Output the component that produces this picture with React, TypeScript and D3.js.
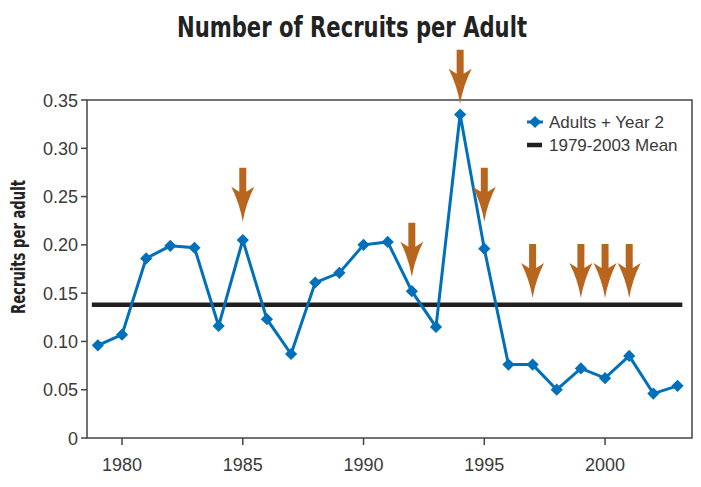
import React from 'react';
import * as d3 from 'd3';

const years = [1979, 1980, 1981, 1982, 1983, 1984, 1985, 1986, 1987, 1988, 1989, 1990, 1991, 1992, 1993, 1994, 1995, 1996, 1997, 1998, 1999, 2000, 2001, 2002, 2003];
const recruits = [0.096, 0.107, 0.186, 0.199, 0.197, 0.116, 0.205, 0.123, 0.087, 0.161, 0.171, 0.200, 0.203, 0.152, 0.115, 0.335, 0.196, 0.076, 0.076, 0.050, 0.072, 0.062, 0.085, 0.046, 0.054];
const meanValue = 0.138;
const meanSpan = [1978.75, 2003.2];

// arrows pointing at selected years (tip value on the y scale)
const arrowYears = [1985, 1992, 1994, 1995, 1997, 1999, 2000, 2001];
const arrowTips = [0.224, 0.167, 0.346, 0.224, 0.145, 0.145, 0.145, 0.145];

const yTicks = [0, 0.05, 0.1, 0.15, 0.2, 0.25, 0.3, 0.35];
const yTickLabels = ['0', '0.05', '0.10', '0.15', '0.20', '0.25', '0.30', '0.35'];
const xTicks = [1980, 1985, 1990, 1995, 2000];

const W = 701;
const H = 487;
const margin = { top: 100, right: 9, bottom: 49, left: 87 };
const BLUE = '#0070BA';
const ARROW = '#B8661E';
const FONT = '"Liberation Sans", Arial, sans-serif';
const NARROW = '"Liberation Sans Narrow", "DejaVu Sans Condensed", Arial, sans-serif';

export default function App() {
  const x = d3.scaleLinear().domain([1978.55, 2003.6]).range([margin.left, W - margin.right]);
  const y = d3.scaleLinear().domain([0, 0.35]).range([H - margin.bottom, margin.top]);

  const line = d3.line<number>()
    .x((_, i) => x(years[i]))
    .y(d => y(d));

  const diamond = d3.symbol().type(d3.symbolDiamond2).size(95)();

  // down arrow with concave head, tip at (tx, ty)
  const arrowPath = (tx: number, ty: number) => {
    const len = 54, shaft = 3.5, wing = 11.5, wingY = 35, joinY = 30;
    return `M${tx - shaft},${ty - len} L${tx + shaft},${ty - len} L${tx + shaft},${ty - joinY}
      L${tx + wing},${ty - wingY} Q${tx + 3},${ty - 18} ${tx},${ty}
      Q${tx - 3},${ty - 18} ${tx - wing},${ty - wingY} L${tx - shaft},${ty - joinY} Z`;
  };

  const x0 = margin.left, x1 = W - margin.right, y0 = H - margin.bottom, y1 = margin.top;

  return (
    <svg width={W} height={H} style={{ position: 'absolute', left: 0, top: 0, background: '#fff' }}>
      <text x={352} y={37} textAnchor="middle" fontFamily={NARROW} fontWeight="bold" fontSize={28} fill="#222"
        textLength={350} lengthAdjust="spacingAndGlyphs">
        Number of Recruits per Adult
      </text>

      {/* frame */}
      <rect x={x0} y={y1} width={x1 - x0} height={y0 - y1} fill="none" stroke="#444" strokeWidth={1.5} />

      {/* y axis */}
      {yTicks.map((t, i) => (
        <g key={t}>
          <line x1={x0 - 6} x2={x0} y1={y(t)} y2={y(t)} stroke="#444" strokeWidth={1.5} />
          <text x={x0 - 9} y={y(t) + 6.5} textAnchor="end" fontFamily={FONT} fontSize={18} fill="#3a3a3a">
            {yTickLabels[i]}
          </text>
        </g>
      ))}
      <text transform={`translate(25,247) rotate(-90)`} textAnchor="middle"
        fontFamily={NARROW} fontWeight="bold" fontSize={20} fill="#222"
        textLength={134} lengthAdjust="spacingAndGlyphs">
        Recruits per adult
      </text>

      {/* x axis */}
      {xTicks.map(t => (
        <g key={t}>
          <line x1={x(t)} x2={x(t)} y1={y0} y2={y0 + 7} stroke="#444" strokeWidth={1.5} />
          <text x={x(t)} y={y0 + 33} textAnchor="middle" fontFamily={FONT} fontSize={18} fill="#3a3a3a">{t}</text>
        </g>
      ))}

      {/* mean line */}
      <line x1={x(meanSpan[0])} x2={x(meanSpan[1])} y1={y(meanValue)} y2={y(meanValue)} stroke="#231F20" strokeWidth={4.5} />

      {/* series */}
      <path d={line(recruits) || ''} fill="none" stroke={BLUE} strokeWidth={3} />
      {recruits.map((v, i) => (
        <path key={years[i]} d={diamond || ''} transform={`translate(${x(years[i])},${y(v)})`} fill={BLUE} />
      ))}

      {/* arrows */}
      {arrowYears.map((yr, i) => (
        <path key={yr} d={arrowPath(x(yr), y(arrowTips[i]))} fill={ARROW} />
      ))}

      {/* legend */}
      <path d={diamond || ''} transform="translate(535,122)" fill={BLUE} />
      <line x1={527} x2={543} y1={122} y2={122} stroke={BLUE} strokeWidth={3} />
      <text x={549} y={128} fontFamily={FONT} fontSize={17} fill="#3a3a3a">Adults + Year 2</text>
      <line x1={527} x2={542} y1={145} y2={145} stroke="#231F20" strokeWidth={4.5} />
      <text x={549} y={151} fontFamily={FONT} fontSize={17} fill="#3a3a3a">1979-2003 Mean</text>
    </svg>
  );
}
